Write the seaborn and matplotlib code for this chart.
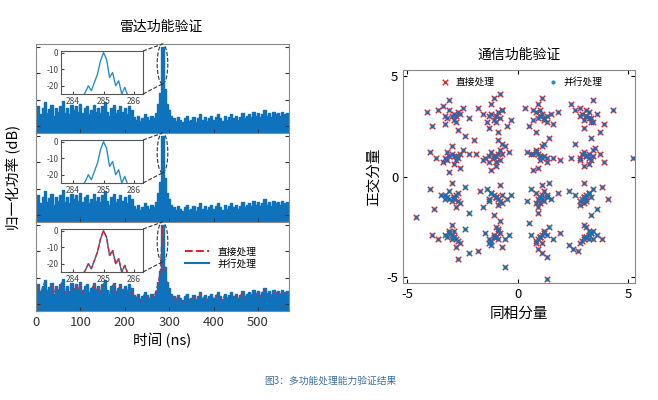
import numpy as np
import pandas as pd
import seaborn as sns
import matplotlib
matplotlib.use("Agg")
import matplotlib.pyplot as plt
from matplotlib.patches import Ellipse
from matplotlib.lines import Line2D

plt.rcParams["font.family"] = ["Noto Sans CJK SC"]
plt.rcParams["axes.unicode_minus"] = False

BLUE = "#0f72bd"
RED = "#d9262b"

# ---- radar range profile (dB), 5 ns steps from 0 to 570 ns ----
time_ns = list(range(0, 575, 5))
power_db = [-48, -45, -51, -46, -42, -50, -47, -44, -52, -46,
            -49, -45, -41, -50, -46, -51, -44, -48, -45, -49,
            -43, -50, -46, -45, -51, -48, -44, -49, -46, -50,
            -45, -42, -49, -52, -46, -44, -50, -48, -45, -49,
            -46, -51, -45, -48, -53, -55, -52, -56, -54, -51,
            -53, -55, -52, -54, -50, -43, -35, 0, -32, -43,
            -48, -52, -54, -56, -53, -55, -57, -54, -52, -56,
            -55, -53, -57, -54, -51, -55, -53, -56, -54, -52,
            -55, -53, -51, -54, -56, -52, -55, -53, -51, -54,
            -52, -55, -53, -50, -54, -52, -51, -53, -49, -52,
            -50, -53, -51, -48, -52, -50, -53, -49, -51, -50,
            -52, -49, -51, -50, -52]
power_db_direct = [v - 1 for v in power_db]

# ---- inset main lobe ----
inset_t = [283.7, 283.8, 283.9, 284.0, 284.1, 284.2, 284.3, 284.4, 284.5, 284.6,
           284.7, 284.8, 284.9, 285.0, 285.1, 285.2, 285.3, 285.4, 285.5, 285.6,
           285.7, 285.8, 285.9, 286.0, 286.1, 286.2, 286.3]
inset_db = [-30, -30, -30, -30, -30, -28, -27, -24, -20, -23,
            -18, -13, -5, 0, -4, -15, -12, -20, -17, -25,
            -21, -26, -30, -30, -30, -30, -30]

# ---- constellation points (16-QAM) ----
I_vals = [-2.9, -3.3, -2.5, -3.6, -2.7, -3.1, -2.2, -3.9, -2.8, -3.4, -2.4, -4.1,
          -1.0, -1.4, -0.7, -1.2, -0.5, -1.6, -0.9, -1.1, -0.3, -1.8, -0.8, -1.3,
          1.0, 0.7, 1.3, 0.9, 1.5, 0.5, 1.1, 1.8, 0.8, 1.2, 0.3, 1.6,
          3.1, 3.3, 2.8, 3.6, 3.0, 2.6, 3.4, 3.9, 3.2, 2.4, 3.7, 4.3,
          -2.8, -3.2, -2.5, -3.7, -2.9, -3.0, -2.2, -4.0, -2.6, -3.4, -2.0, -3.1,
          -1.1, -1.3, -0.8, -1.5, -0.6, -1.0, -1.9, -0.9, -1.2, -0.4, -1.6, -0.7,
          1.0, 0.8, 1.3, 1.1, 0.6, 1.6, 0.9, 1.2, 0.4, 1.9, 1.4, 0.7,
          3.1, 2.8, 3.4, 3.0, 3.7, 2.6, 3.2, 3.5, 2.4, 3.9, 3.3, 5.2,
          -2.9, -3.1, -2.6, -3.5, -2.8, -2.4, -3.3, -4.0, -2.2, -3.0, -2.7, -3.8,
          -1.0, -1.2, -0.7, -1.4, -0.9, -0.5, -1.7, -1.1, -0.8, -1.3, -0.3, -1.6,
          1.0, 1.2, 0.8, 1.3, 0.9, 0.6, 1.5, 1.1, 1.8, 0.4, 0.9, 1.4,
          3.0, 3.2, 2.8, 3.4, 3.1, 2.6, 3.6, 3.0, 4.1, 2.3, 3.3, 3.8,
          -2.9, -3.1, -2.6, -3.3, -2.8, -2.4, -3.6, -3.0, -2.2, -3.9, -2.7, -4.6,
          -1.1, -0.9, -1.3, -0.7, -1.5, -0.6, -1.0, -1.8, -0.8, -1.2, -0.4, -0.6,
          1.0, 1.2, 0.8, 1.4, 0.9, 0.6, 1.6, 1.1, 0.5, 1.3, 1.9, 1.3,
          3.0, 3.2, 2.8, 3.4, 3.1, 2.5, 3.6, 3.0, 2.3, 3.8, 3.3, 2.7,
          -3.0, -2.7, -3.2, -2.9, -2.6, -3.1, -2.8, -3.3,
          -1.0, -0.8, -1.2, -0.9, -1.1, -0.7, -1.3, -1.0,
          1.0, 1.1, 0.9, 1.2, 0.8, 1.0, 1.3, 0.7,
          3.1, 3.0, 3.3, 2.9, 3.2, 3.4, 2.8, 3.1,
          -2.9, -3.0, -2.7, -3.2, -2.8, -3.1, -2.6, -3.3,
          -1.0, -1.1, -0.9, -1.2, -0.8, -1.0, -1.3, -0.7,
          1.0, 0.9, 1.1, 1.2, 0.8, 1.0, 1.3, 0.7,
          3.1, 3.2, 2.9, 3.3, 3.0, 3.4, 2.8, 3.2,
          -2.9, -2.8, -3.1, -3.0, -2.7, -3.2, -2.9, -3.3,
          -1.0, -0.9, -1.1, -1.2, -0.8, -1.0, -1.3, -0.7,
          1.0, 1.1, 0.9, 1.2, 0.8, 1.0, 1.3, 1.1,
          3.0, 3.1, 2.9, 3.2, 2.8, 3.0, 3.3, 3.1,
          -2.9, -3.0, -2.8, -3.1, -2.7, -3.2, -2.9, -3.0,
          -1.0, -0.9, -1.1, -1.2, -0.8, -1.0, -1.3, -0.9,
          1.0, 1.1, 0.9, 1.2, 0.8, 1.0, 1.3, 1.1,
          3.1, 3.2, 3.0, 3.3, 2.9, 3.1, 3.4, 3.2]
Q_vals = [3.1, 2.6, 3.4, 3.3, 2.3, 3.8, 2.9, 2.5, 3.0, 3.5, 2.0, 3.2,
          3.0, 2.7, 3.3, 3.6, 2.5, 3.1, 2.2, 3.9, 2.8, 3.4, 4.1, 2.4,
          3.0, 3.3, 2.7, 3.6, 3.1, 2.5, 3.9, 3.2, 2.2, 2.9, 3.4, 2.6,
          3.0, 2.7, 3.4, 3.1, 2.4, 3.3, 3.8, 2.6, 2.9, 3.6, 2.2, 3.3,
          1.0, 0.8, 1.3, 0.9, 0.6, 1.5, 1.1, 1.2, 0.4, 0.7, 1.8, 0.2,
          1.0, 0.7, 1.3, 0.9, 1.5, 0.5, 1.1, 1.8, 0.3, 1.2, 0.8, 1.6,
          1.0, 1.3, 0.7, 1.5, 1.1, 0.9, 0.4, 1.6, 1.2, 0.8, 1.9, 0.3,
          1.0, 0.8, 1.3, 0.5, 1.1, 1.6, 0.6, 1.4, 0.9, 0.7, 1.9, 0.9,
          -1.0, -0.7, -1.3, -0.9, -1.5, -0.5, -1.1, -0.6, -1.8, -0.3, -1.2, -1.6,
          -1.0, -0.8, -1.3, -0.6, -1.4, -1.1, -0.7, -1.9, -0.4, -1.2, -0.9, -1.5,
          -1.0, -0.7, -1.3, -0.9, -1.5, -0.6, -1.1, -0.4, -0.8, -1.2, -1.8, -0.3,
          -1.0, -0.8, -1.4, -0.6, -1.2, -0.9, -1.6, -0.3, -1.1, -0.7, -1.9, -0.5,
          -3.0, -2.7, -3.3, -2.9, -3.5, -2.6, -3.1, -2.4, -3.8, -2.9, -4.1, -2.0,
          -3.0, -2.6, -3.3, -3.5, -2.8, -3.1, -2.5, -3.7, -2.2, -3.4, -2.9, -4.5,
          -3.0, -2.7, -3.3, -2.5, -3.6, -2.9, -3.1, -3.8, -2.3, -4.0, -2.8, -5.1,
          -3.0, -2.7, -3.3, -3.1, -2.5, -3.6, -2.9, -2.4, -3.4, -3.1, -2.8, -3.7,
          3.0, 3.2, 2.9, 2.8, 3.1, 3.3, 2.7, 3.0,
          3.0, 2.9, 3.1, 3.2, 2.8, 3.3, 3.0, 2.7,
          3.0, 3.1, 2.9, 2.8, 3.2, 3.3, 3.0, 2.8,
          3.0, 2.8, 2.9, 3.1, 3.2, 2.7, 3.0, 3.3,
          1.0, 1.1, 0.9, 1.2, 0.8, 1.0, 1.1, 0.9,
          1.0, 0.9, 1.1, 1.2, 0.8, 0.7, 1.0, 1.1,
          1.0, 1.1, 0.9, 1.0, 1.2, 0.8, 0.9, 1.1,
          1.0, 0.9, 1.1, 0.8, 1.2, 1.0, 0.9, 1.1,
          -1.0, -0.9, -1.1, -1.2, -0.8, -1.0, -1.1, -0.9,
          -1.0, -1.1, -0.9, -0.8, -1.2, -1.0, -1.1, -0.9,
          -1.0, -0.9, -1.1, -1.2, -0.8, -1.3, -1.0, -1.1,
          -1.0, -0.9, -1.1, -0.8, -1.2, -1.3, -1.0, -1.1,
          -3.0, -2.9, -3.1, -2.8, -3.2, -3.0, -2.7, -3.1,
          -3.0, -3.1, -2.9, -3.2, -2.8, -3.0, -3.1, -2.7,
          -3.0, -2.9, -3.1, -2.8, -3.2, -3.0, -2.9, -3.3,
          -3.0, -2.9, -3.1, -2.8, -3.2, -3.0, -2.7, -3.1]

fig = plt.figure(figsize=(6.58, 4.0), dpi=100)
W, H = 658, 400

def fa(x0, y0, x1, y1):
    return fig.add_axes([x0 / W, 1 - y1 / H, (x1 - x0) / W, (y1 - y0) / H])

df = pd.DataFrame({"t": time_ns, "p": power_db, "pd": power_db_direct})
dfi = pd.DataFrame({"t": inset_t, "p": inset_db})

bounds = [(44, 133), (133, 222), (222, 311)]
main_axes = []
for k, (y0, y1) in enumerate(bounds):
    ax = fa(36, y0, 289, y1)
    main_axes.append(ax)
    ax.fill_between(df["t"], -65, df["p"], color=BLUE, step="mid", lw=0)
    if k == 2:
        sns.lineplot(data=df, x="t", y="pd", ax=ax, color=RED, lw=1, ls="--", legend=False)
    sns.lineplot(data=df, x="t", y="p", ax=ax, color=BLUE, lw=1, drawstyle="steps-mid", legend=False)
    ax.set_xlim(0, 570)
    ax.set_ylim(-65, 2)
    ax.set_yticks([-60, -40, -20, 0])
    ax.set_yticklabels([])
    ax.set_ylabel("")
    ax.set_xlabel("")
    ax.tick_params(direction="in", length=3, right=True, top=False, colors="#333333")
    for s in ax.spines.values():
        s.set_color("#888888")
    ax.set_xticks([0, 100, 200, 300, 400, 500])
    if k < 2:
        ax.set_xticklabels([])
    else:
        ax.tick_params(axis="x", labelsize=9.5)
    ell = Ellipse((285, -13), 24, 30, fill=False, ls="--", lw=0.8, color="#333333", clip_on=False)
    ax.add_patch(ell)

for k, (y0, y1) in enumerate(bounds):
    ax = main_axes[k]
    iy0 = y0 + 7
    iy1 = y0 + 50
    ia = fa(61, iy0, 143, iy1)
    if k == 2:
        sns.lineplot(data=dfi, x="t", y="p", ax=ia, color=BLUE, lw=1, legend=False)
        sns.lineplot(data=dfi, x="t", y="p", ax=ia, color=RED, lw=1, ls="--", legend=False)
    else:
        sns.lineplot(data=dfi, x="t", y="p", ax=ia, color="#2a8fc9", lw=1, legend=False)
    ia.set_xlim(283.6, 286.3)
    ia.set_ylim(-25, 1)
    ia.set_xticks([284, 285, 286])
    ia.set_yticks([-20, -10, 0])
    ia.set_xlabel("")
    ia.set_ylabel("")
    ia.tick_params(labelsize=6, direction="in", length=2, colors="#444444", pad=2)
    for s in ia.spines.values():
        s.set_color("#555555")
    for (fx, fy), (ex, ey) in [((143, iy0), (285, 2)), ((143, iy1), (285, -28))]:
        p = ax.transData.transform((ex, ey))
        pf = fig.transFigure.inverted().transform(p)
        fig.add_artist(Line2D([fx / W, pf[0]], [1 - fy / H, pf[1]], ls="--", lw=0.8, color="#333333"))
    if k == 2:
        h = [Line2D([], [], color=RED, ls="--", lw=1.5), Line2D([], [], color=BLUE, lw=1.5)]
        ax.legend(h, ["直接处理", "并行处理"], loc="center", bbox_to_anchor=(0.73, 0.6),
                  frameon=False, fontsize=7, handlelength=2.5, labelspacing=0.2)

fig.text(162 / W, 1 - 27 / H, "雷达功能验证", ha="center", va="center", fontsize=10)
fig.text(162 / W, 1 - 340 / H, "时间 (ns)", ha="center", va="center", fontsize=10.5)
fig.text(14 / W, 1 - 177 / H, "归一化功率 (dB)", ha="center", va="center", fontsize=10.5, rotation=90)

ax2 = fa(403, 70, 635, 283)
dfc = pd.DataFrame({"I": I_vals, "Q": Q_vals})
sns.scatterplot(data=dfc, x="I", y="Q", ax=ax2, marker="x", color=RED, s=16, linewidth=1.0, label="直接处理")
sns.scatterplot(data=dfc, x="I", y="Q", ax=ax2, marker="o", color=BLUE, s=9, linewidth=0, alpha=0.85, label="并行处理")
ax2.set_xlim(-5.2, 5.3)
ax2.set_ylim(-5.3, 5.3)
ax2.set_xticks([-5, 0, 5])
ax2.set_yticks([-5, 0, 5])
ax2.set_xlabel("同相分量", fontsize=10.5)
ax2.set_ylabel("正交分量", fontsize=10.5)
ax2.tick_params(labelsize=9.5, direction="in", length=3, right=True, top=True)
for s in ax2.spines.values():
    s.set_color("#888888")
ax2.legend(loc="upper center", ncol=2, frameon=False, fontsize=7, columnspacing=5,
           handletextpad=0.1, borderpad=0.2)
ax2.set_title("通信功能验证", fontsize=10, pad=8)

fig.text(330 / W, 1 - 381 / H, "图3：多功能处理能力验证结果", ha="center", va="center",
         fontsize=7, color="#3a6ea5")

fig.savefig("out.png", dpi=100)
